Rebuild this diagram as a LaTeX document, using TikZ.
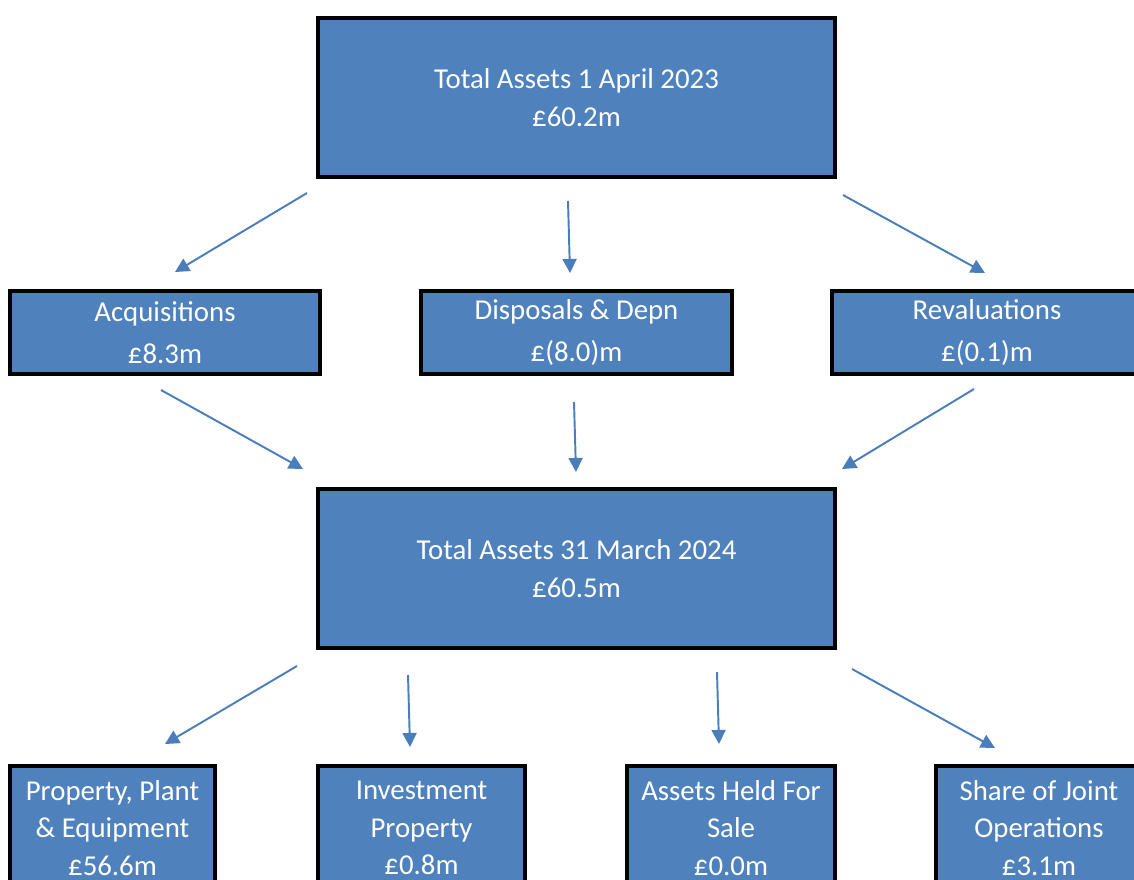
\documentclass[tikz,border=0pt]{standalone}
\usepackage{fontspec}
\setmainfont{Carlito}
\usepackage{xcolor}
\usetikzlibrary{positioning, arrows.meta}
\definecolor{boxblue}{RGB}{79,129,189}
\definecolor{arrowblue}{RGB}{74,126,187}
\tikzset{
  assetbox/.style={draw=black, line width=2pt, fill=boxblue, text=white,
    align=center, inner sep=0pt, font=\fontsize{16.4}{22}\selectfont},
  flow/.style={arrowblue, line width=1.1pt, -{Triangle[length=8pt, width=8pt]}}
}

\begin{document}
\begin{tikzpicture}[x=0.02cm, y=-0.02cm]
  \useasboundingbox (0,0) rectangle (1134,880);
  \clip (0,0) rectangle (1134,880);

  % Opening total
  \node[assetbox, minimum width=10.34cm, minimum height=3.18cm] (open) at (576.5,97.5)
    {Total Assets 1 April 2023\\[-0.5pt]£60.2m};

  % --- MOVEMENTS ---
  \node[assetbox, minimum width=6.2cm, minimum height=1.66cm] (acq) at (165,332.5)
    {Acquisitions\\[1.5pt]£8.3m};
  \node[assetbox, minimum width=6.22cm, minimum height=1.66cm] (disp) at (576.5,332.5)
    {Disposals \& Depn\\[1.5pt]£(8.0)m};
  \node[assetbox, minimum width=6.2cm, minimum height=1.66cm] (reval) at (987,332.5)
    {Revaluations\\[1.5pt]£(0.1)m};

  % Closing total
  \node[assetbox, minimum width=10.34cm, minimum height=3.18cm] (close) at (576.5,568.5)
    {Total Assets 31 March 2024\\[-0.5pt]£60.5m};

  % --- ANALYSIS OF CLOSING TOTAL ---
  \node[assetbox, minimum width=4.1cm, minimum height=2.48cm] (ppe) at (112.5,828)
    {Property, Plant\\[-0.5pt]\& Equipment\\[-0.5pt]£56.6m};
  \node[assetbox, minimum width=4.14cm, minimum height=2.48cm] (inv) at (421.5,828)
    {Investment\\[-0.5pt]Property\\[-0.5pt]£0.8m};
  \node[assetbox, minimum width=4.16cm, minimum height=2.48cm] (ahfs) at (731,828)
    {Assets Held For\\[-0.5pt]Sale\\[-0.5pt]£0.0m};
  \node[assetbox, minimum width=4.12cm, minimum height=2.48cm] (jo) at (1039,828)
    {Share of Joint\\[-0.5pt]Operations\\[-0.5pt]£3.1m};

  % Arrow ends
  \coordinate (o1) at (307,193);  \coordinate (o1t) at (175,272);
  \coordinate (o2) at (568,201);  \coordinate (o2t) at (570,273);
  \coordinate (o3) at (843,195);  \coordinate (o3t) at (985,273);
  \coordinate (m1) at (161,390);  \coordinate (m1t) at (303,469);
  \coordinate (m2) at (574,402);  \coordinate (m2t) at (576,472);
  \coordinate (m3) at (974,389);  \coordinate (m3t) at (842,469);
  \coordinate (c1) at (297,666);  \coordinate (c1t) at (165,744);
  \coordinate (c2) at (408,675);  \coordinate (c2t) at (410,747);
  \coordinate (c3) at (717,672);  \coordinate (c3t) at (719,744);
  \coordinate (c4) at (852,669);  \coordinate (c4t) at (995,748);

  % Arrows
  \draw[flow] (o1) -- (o1t);
  \draw[flow] (o2) -- (o2t);
  \draw[flow] (o3) -- (o3t);
  \draw[flow] (m1) -- (m1t);
  \draw[flow] (m2) -- (m2t);
  \draw[flow] (m3) -- (m3t);
  \draw[flow] (c1) -- (c1t);
  \draw[flow] (c2) -- (c2t);
  \draw[flow] (c3) -- (c3t);
  \draw[flow] (c4) -- (c4t);
\end{tikzpicture}
\end{document}
